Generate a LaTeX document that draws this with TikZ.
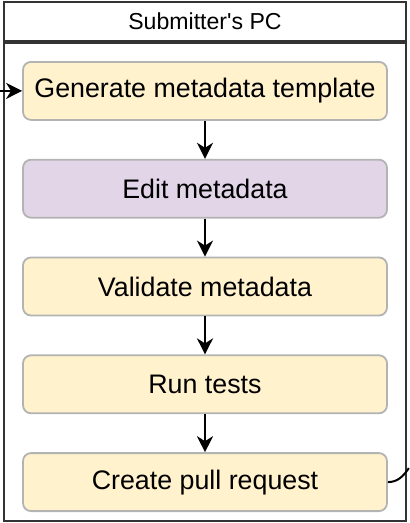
\documentclass[tikz,border=0pt]{standalone}
\usepackage{fontspec}
\setmainfont{Liberation Sans}
\usetikzlibrary{arrows.meta, positioning, calc}
\definecolor{stepyellow}{HTML}{FFF2CC}
\definecolor{steppurple}{HTML}{E1D5E7}
\definecolor{stepline}{HTML}{B3B3B3}
\tikzstyle{arrow} = [line width=2.4pt, -{Stealth[length=16pt, width=16pt, inset=5pt]}]
\tikzstyle{stepbox} = [rectangle, rounded corners=8pt, minimum width=364pt, minimum height=58pt, text centered, draw=stepline, line width=1.8pt, fill=stepyellow, align=center, font=\fontsize{26.8}{31}\selectfont]

\begin{document}
\begin{tikzpicture}[x=1pt, y=-1pt,
        node distance=38pt,
        container/.style={rectangle, draw=black!80, line width=2pt, minimum width=402pt, inner sep=0pt}]
    \useasboundingbox (0,0) rectangle (410,523);

    \node [container, minimum height=39pt, font=\fontsize{23.1}{27}\selectfont] (title) at (205,21.5) {Submitter\textquotesingle s PC};
    \node [container, minimum height=478pt, below=0pt of title] (body) {};

    \node [stepbox, below=19pt of title] (generate) {Generate metadata template};
    \node [stepbox, below=of generate, fill=steppurple] (edit) {Edit metadata};
    \node [stepbox, below=of edit] (validate) {Validate metadata};
    \node [stepbox, below=of validate] (runtests) {Run tests};
    \node [stepbox, below=of runtests] (pullreq) {Create pull request};

    \coordinate (loopin) at ([xshift=-24pt]generate.west);
    \coordinate (loopout) at ([xshift=21pt, yshift=14pt]pullreq.east);

    \draw[arrow] (loopin) -- (generate.west);
    \draw[arrow] (generate) -- (edit);
    \draw[arrow] (edit) -- (validate);
    \draw[arrow] (validate) -- (runtests);
    \draw[arrow] (runtests) -- (pullreq);
    \draw[line width=2pt] (pullreq.east) to[out=0, in=235] (loopout);
\end{tikzpicture}
\end{document}
